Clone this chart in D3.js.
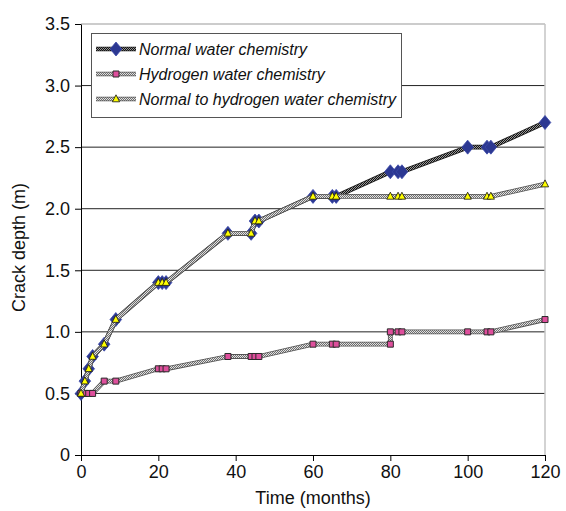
<!DOCTYPE html>
<html>
<head>
<meta charset="utf-8">
<script src="https://cdn.jsdelivr.net/npm/d3@7/dist/d3.min.js"></script>
<style>
  html, body { margin: 0; padding: 0; background: #fff; }
  svg { display: block; font-family: "Liberation Sans", Arial, sans-serif; }
</style>
</head>
<body>
<svg id="chart" width="566" height="511"></svg>
<script>
// Crack depth growth under three water-chemistry regimes
const normalMonths = [0, 1, 2, 3, 6, 9, 20, 21, 22, 38, 44, 45, 46, 60, 65, 66, 80, 82, 83, 100, 105, 106, 120];
const normalDepth  = [0.5, 0.6, 0.7, 0.8, 0.9, 1.1, 1.4, 1.4, 1.4, 1.8, 1.8, 1.9, 1.9, 2.1, 2.1, 2.1, 2.3, 2.3, 2.3, 2.5, 2.5, 2.5, 2.7];

const hydrogenMonths = [0, 1, 2, 3, 6, 9, 20, 21, 22, 38, 44, 45, 46, 60, 65, 66, 80, 80, 82, 83, 100, 105, 106, 120];
const hydrogenDepth  = [0.5, 0.5, 0.5, 0.5, 0.6, 0.6, 0.7, 0.7, 0.7, 0.8, 0.8, 0.8, 0.8, 0.9, 0.9, 0.9, 0.9, 1.0, 1.0, 1.0, 1.0, 1.0, 1.0, 1.1];

const switchMonths = [0, 1, 2, 3, 6, 9, 20, 21, 22, 38, 44, 45, 46, 60, 65, 66, 80, 82, 83, 100, 105, 106, 120];
const switchDepth  = [0.5, 0.6, 0.7, 0.8, 0.9, 1.1, 1.4, 1.4, 1.4, 1.8, 1.8, 1.9, 1.9, 2.1, 2.1, 2.1, 2.1, 2.1, 2.1, 2.1, 2.1, 2.1, 2.2];

const seriesNames = ["Normal water chemistry", "Hydrogen water chemistry", "Normal to hydrogen water chemistry"];
const xTicks = [0, 20, 40, 60, 80, 100, 120];
const yTicks = [0, 0.5, 1.0, 1.5, 2.0, 2.5, 3.0, 3.5];
const yTickLabels = ["0", "0.5", "1.0", "1.5", "2.0", "2.5", "3.0", "3.5"];

const svg = d3.select("#chart");
const plotLeft = 81, plotRight = 545, plotTop = 24, plotBottom = 455;

const x = d3.scaleLinear().domain([0, 120]).range([plotLeft, plotRight]);
const y = d3.scaleLinear().domain([0, 3.5]).range([plotBottom, plotTop]);

// textured strokes
const defs = svg.append("defs");
function checker(id, a, b) {
  const p = defs.append("pattern").attr("id", id)
    .attr("patternUnits", "userSpaceOnUse").attr("width", 2).attr("height", 2);
  p.append("rect").attr("width", 2).attr("height", 2).attr("fill", b);
  p.append("rect").attr("width", 1).attr("height", 1).attr("fill", a);
  p.append("rect").attr("x", 1).attr("y", 1).attr("width", 1).attr("height", 1).attr("fill", a);
}
checker("chkDark", "#111", "#9a9a9a");
checker("chkGray", "#6e6e6e", "#e2e2e2");

// gridlines
svg.append("g").selectAll("line").data(yTicks.filter(v => v > 0 && v < 3.5)).join("line")
  .attr("x1", plotLeft).attr("x2", plotRight)
  .attr("y1", d => y(d)).attr("y2", d => y(d))
  .attr("stroke", "#222").attr("stroke-width", 1);

// plot frame top and right
svg.append("line").attr("x1", plotLeft).attr("x2", plotRight).attr("y1", y(3.5)).attr("y2", y(3.5))
  .attr("stroke", "#999").attr("stroke-width", 1);
svg.append("line").attr("x1", plotRight).attr("x2", plotRight).attr("y1", plotTop).attr("y2", plotBottom)
  .attr("stroke", "#c4c4c4").attr("stroke-width", 1.5);

// axes
const xAxis = d3.axisBottom(x).tickValues(xTicks).tickSize(6).tickSizeOuter(0).tickPadding(4);
const yAxis = d3.axisLeft(y).tickValues(yTicks).tickSize(6).tickSizeOuter(0).tickPadding(5)
  .tickFormat((d, i) => yTickLabels[i]);

const gx = svg.append("g").attr("transform", `translate(0,${plotBottom})`).call(xAxis);
const gy = svg.append("g").attr("transform", `translate(${plotLeft},0)`).call(yAxis);
[gx, gy].forEach(g => {
  g.select(".domain").attr("stroke", "#000").attr("stroke-width", 1);
  g.selectAll(".tick line").attr("stroke", "#000");
  g.selectAll(".tick text").attr("fill", "#111").style("font-size", "18px")
    .style("font-family", "'Liberation Sans', Arial, sans-serif");
});

svg.append("text").attr("x", (plotLeft + plotRight) / 2).attr("y", 504)
  .attr("text-anchor", "middle").style("font-size", "18px").attr("fill", "#111")
  .text("Time (months)");
svg.append("text").attr("transform", `translate(25,${(plotTop + plotBottom) / 2 + 8}) rotate(-90)`)
  .attr("text-anchor", "middle").style("font-size", "18px").attr("fill", "#111")
  .text("Crack depth (m)");

// marker shapes
const diamond = (w, h) => `M0,${-h}L${w},0L0,${h}L${-w},0Z`;
const square = s => `M${-s},${-s}H${s}V${s}H${-s}Z`;
const triangle = (w, h) => `M0,${-h * 0.6}L${w},${h * 0.4}L${-w},${h * 0.4}Z`;

const series = [
  { name: seriesNames[0], xs: normalMonths, ys: normalDepth, tex: "chkDark", edge: "#1a1a1a",
    shape: diamond(5.8, 7), fill: "#2c3892", stroke: "#3a48a8", sw: 0.8 },
  { name: seriesNames[1], xs: hydrogenMonths, ys: hydrogenDepth, tex: "chkGray", edge: "#555",
    shape: square(3), fill: "#de4f9c", stroke: "#2a2a2a", sw: 1 },
  { name: seriesNames[2], xs: switchMonths, ys: switchDepth, tex: "chkGray", edge: "#555",
    shape: triangle(3.6, 7), fill: "#ffff00", stroke: "#111", sw: 0.8 }
];

const line = d3.line().x(d => x(d[0])).y(d => y(d[1]));

series.forEach(s => {
  const pts = s.xs.map((v, i) => [v, s.ys[i]]);
  const g = svg.append("g");
  g.append("path").attr("d", line(pts)).attr("fill", "none")
    .attr("stroke", s.edge).attr("stroke-width", 4.8).attr("stroke-linejoin", "round");
  g.append("path").attr("d", line(pts)).attr("fill", "none")
    .attr("stroke", `url(#${s.tex})`).attr("stroke-width", 3.2).attr("stroke-linejoin", "round");
  g.selectAll("path.m").data(pts).join("path").attr("class", "m")
    .attr("transform", d => `translate(${x(d[0])},${y(d[1])})`)
    .attr("d", s.shape).attr("fill", s.fill)
    .attr("stroke", s.stroke).attr("stroke-width", s.sw);
});

// legend
const lg = svg.append("g");
lg.append("rect").attr("x", 91.5).attr("y", 33.5).attr("width", 310).attr("height", 84)
  .attr("fill", "#fff").attr("stroke", "#555").attr("stroke-width", 1);
const rowY = [49, 74, 99];
series.forEach((s, i) => {
  const yy = rowY[i];
  lg.append("line").attr("x1", 96).attr("x2", 136).attr("y1", yy).attr("y2", yy)
    .attr("stroke", s.edge).attr("stroke-width", 4.5);
  lg.append("line").attr("x1", 96).attr("x2", 136).attr("y1", yy).attr("y2", yy)
    .attr("stroke", `url(#${s.tex})`).attr("stroke-width", 3);
  lg.append("path").attr("transform", `translate(116,${yy})`).attr("d", s.shape)
    .attr("fill", s.fill).attr("stroke", s.stroke).attr("stroke-width", s.sw);
  lg.append("text").attr("x", 139).attr("y", yy + 5.5)
    .style("font-size", "16px").style("font-style", "italic").attr("fill", "#111")
    .text(s.name);
});
</script>
</body>
</html>
